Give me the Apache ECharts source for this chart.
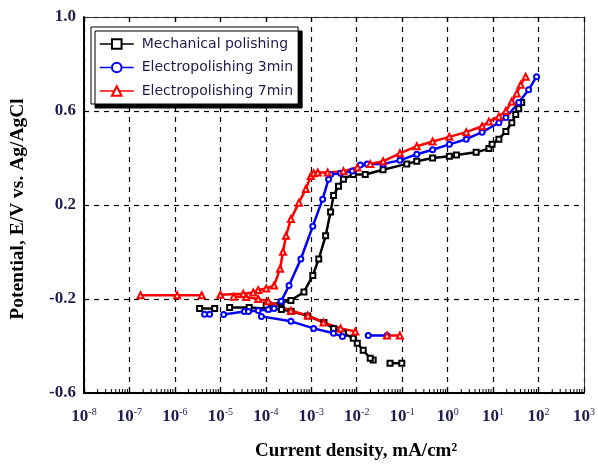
<!DOCTYPE html>
<html><head><meta charset="utf-8">
<script src="https://cdn.jsdelivr.net/npm/echarts@6/dist/echarts.min.js"></script>
<style>html,body{margin:0;padding:0;background:#fff}#c{width:598px;height:466px}</style>
</head><body><div id="c"></div>
<script>
// ---- data (current density mA/cm^2, potential V vs Ag/AgCl); null = break in curve ----
const seriesNames = ['Mechanical polishing', 'Electropolishing 3min', 'Electropolishing 7min'];
const mechI = [0.098, 0.054, null, 0.023, 0.0198, 0.0139, 0.0103, 0.0084, 0.0051, 0.0031, 0.0019, 0.00084, 0.00036, 0.00022, 0.000113, 0.000043, 0.000016, null, 0.0000075, 0.0000035, null, 0.000102, 0.000217, 0.000357, 0.00069, 0.00108, 0.00146, 0.00207, 0.00266, 0.00309, 0.00397, 0.0051, 0.0084, 0.0154, 0.038, 0.126, 0.209, 0.467, 1.09, 1.56, 4.24, 8.1, 9.5, 13.4, 19.1, 25.8, 31.5, 36.6, 42.6];
const mechE = [-0.473, -0.473, null, -0.460, -0.452, -0.418, -0.388, -0.367, -0.346, -0.325, -0.300, -0.272, -0.252, -0.245, -0.242, -0.236, -0.236, null, -0.240, -0.240, null, -0.228, -0.215, -0.206, -0.170, -0.100, -0.030, 0.069, 0.170, 0.240, 0.280, 0.310, 0.330, 0.330, 0.350, 0.375, 0.386, 0.400, 0.407, 0.413, 0.424, 0.440, 0.458, 0.480, 0.513, 0.550, 0.585, 0.610, 0.636];
const ep3I = [0.0465, 0.0179, null, 0.00485, 0.00309, 0.00113, 0.000357, 0.00008, null, 0.0000045, 0.0000058, null, 0.0000118, 0.0000338, 0.0000414, 0.000068, 0.000113, 0.000152, 0.000217, 0.000324, 0.00059, 0.00108, 0.00178, 0.0024, 0.00266, 0.0044, 0.008, 0.012, 0.017, 0.038, 0.089, 0.209, 0.467, 1.09, 2.57, 5.73, 13.4, 19.1, 36.6, 60.5, 90.4];
const ep3E = [-0.355, -0.355, null, -0.360, -0.346, -0.325, -0.295, -0.274, null, -0.265, -0.265, null, -0.266, -0.253, -0.253, -0.249, -0.245, -0.240, -0.210, -0.143, -0.030, 0.110, 0.225, 0.310, 0.330, 0.335, 0.345, 0.370, 0.375, 0.375, 0.390, 0.416, 0.435, 0.458, 0.480, 0.510, 0.550, 0.572, 0.636, 0.690, 0.746];
const ep7I = [0.089, 0.0465, null, 0.0093, 0.0044, 0.00187, 0.00084, 0.000357, 0.000113, 0.000068, 0.000037, 0.0000195, null, 0.0000039, 0.00000112, 0.000000175, null, 0.00001, 0.000032, 0.000053, 0.000068, 0.000102, 0.000152, 0.000206, 0.000239, 0.000278, 0.000357, 0.000535, 0.00076, 0.000975, 0.00113, 0.00139, 0.00229, 0.0051, 0.0103, 0.0198, 0.038, 0.089, 0.209, 0.467, 1.09, 2.57, 5.73, 8.1, 13.4, 19.1, 25.8, 33.2, 40.5, 52];
const ep7E = [-0.355, -0.355, null, -0.338, -0.325, -0.300, -0.270, -0.250, -0.210, -0.200, -0.192, -0.190, null, -0.184, -0.184, -0.184, null, -0.182, -0.178, -0.172, -0.162, -0.155, -0.143, -0.071, 0.001, 0.069, 0.140, 0.210, 0.268, 0.323, 0.335, 0.338, 0.338, 0.344, 0.360, 0.375, 0.386, 0.420, 0.450, 0.470, 0.490, 0.510, 0.535, 0.555, 0.577, 0.600, 0.640, 0.675, 0.712, 0.746];
// axis ticks
const xTickExponents = [-8, -7, -6, -5, -4, -3, -2, -1, 0, 1, 2, 3];
const yTickValues = [-0.6, -0.2, 0.2, 0.6, 1.0];
const yTickLabels = ['-0.6', '-0.2', '0.2', '0.6', '1.0'];
const minorMultipliers = [2, 3, 4, 5, 6, 7, 8, 9];

const EXP_MIN = xTickExponents[0], EXP_MAX = xTickExponents[xTickExponents.length - 1];
const X_MIN = Math.pow(10, EXP_MIN), X_MAX = Math.pow(10, EXP_MAX);
const Y_MIN = yTickValues[0], Y_MAX = yTickValues[yTickValues.length - 1];

function pairs(I, E) {
  return I.map((v, k) => v == null ? '-' : [v, E[k]]);
}
const minorTicks = [];
for (let k = 0; k < xTickExponents.length - 1; k++) {
  for (const m of minorMultipliers) minorTicks.push([m * Math.pow(10, xTickExponents[k]), Y_MIN]);
}

const labelColor = '#1d1d4d';
const chart = echarts.init(document.getElementById('c'), null, {renderer: 'canvas'});

function mkSeries(name, I, E, color, symbol, size) {
  return {
    name, type: 'line', data: pairs(I, E), connectNulls: false, xAxisIndex: 0, yAxisIndex: 0,
    symbol, symbolSize: size, showSymbol: true,
    lineStyle: {color, width: 2.5},
    itemStyle: {color, borderColor: color, borderWidth: 1.2},
    emphasis: {disabled: true}, animation: false, z: 3
  };
}
const dash = {color: '#000', type: [5, 5], width: 1.2};

chart.setOption({
  animation: false,
  backgroundColor: '#fff',
  grid: {left: 81, right: 12, top: 17, bottom: 71},
  legend: {
    data: seriesNames, orient: 'vertical', left: 91, top: 27,
    padding: [10, 5, 6, 8], itemWidth: 34, itemHeight: 12, itemGap: 9.5,
    backgroundColor: '#fff', borderColor: '#000', borderWidth: 1,
    shadowColor: '#000', shadowBlur: 0, shadowOffsetX: 4, shadowOffsetY: 4,
    textStyle: {fontFamily: 'DejaVu Sans', fontSize: 14, color: labelColor, padding: [0, 0, 0, 3]},
    lineStyle: {width: 1.5}, itemStyle: {borderWidth: 1}, z: 10
  },
  xAxis: [{
    // data scale (logarithmic); its own decorations are hidden
    type: 'log', logBase: 10, min: X_MIN, max: X_MAX, show: false
  }, {
    // decade ticks, labels and grid (linear in the exponent, same positions)
    type: 'value', min: EXP_MIN, max: EXP_MAX, interval: 1, position: 'bottom',
    axisLine: {onZero: false, lineStyle: {color: '#000', width: 2}},
    axisTick: {inside: true, length: 6, lineStyle: {color: '#000', width: 1.2}},
    splitLine: {show: true, lineStyle: dash},
    axisLabel: {
      margin: 14,
      formatter: v => xTickExponents.indexOf(Math.round(v)) >= 0 ? '{b|10}{s|' + Math.round(v) + '}' : '',
      rich: {
        b: {fontFamily: 'Liberation Serif', fontSize: 17, color: labelColor, fontWeight: 'bold'},
        s: {fontFamily: 'Liberation Serif', fontSize: 10, color: labelColor, padding: [0, 0, 9, 0]}
      }
    },
    name: 'Current density, mA/cm\u00B2', nameLocation: 'middle', nameGap: 49,
    nameTextStyle: {fontFamily: 'Liberation Serif', fontSize: 19, fontWeight: 'bold', color: '#000', padding: [0, 0, 0, 44]}
  }, {
    type: 'value', min: EXP_MIN, max: EXP_MAX, interval: 1, position: 'top',
    axisLine: {onZero: false, lineStyle: {color: '#333', width: 1}},
    axisTick: {inside: true, length: 5, lineStyle: {color: '#000', width: 1.2}},
    axisLabel: {show: false}, splitLine: {show: false}
  }],
  yAxis: [{
    type: 'value', min: Y_MIN, max: Y_MAX, interval: 0.4,
    axisLine: {onZero: false, lineStyle: {color: '#000', width: 2}},
    axisTick: {show: false},
    splitLine: {show: true, lineStyle: dash},
    axisLabel: {
      margin: 8,
      formatter: v => { const k = yTickValues.findIndex(t => Math.abs(t - v) < 1e-6); return k >= 0 ? yTickLabels[k] : ''; },
      fontFamily: 'Liberation Serif', fontSize: 17, fontWeight: 'bold', color: labelColor
    },
    name: 'Potential, E/V vs. Ag/AgCl', nameLocation: 'middle', nameGap: 56,
    nameTextStyle: {fontFamily: 'Liberation Serif', fontSize: 19.5, fontWeight: 'bold', color: '#000', padding: [0, 8, 0, 0]}
  }, {
    type: 'value', min: Y_MIN, max: Y_MAX, interval: 0.4, position: 'right',
    axisLine: {show: true, onZero: false, lineStyle: {color: '#333', width: 1}},
    axisTick: {show: false}, axisLabel: {show: false}, splitLine: {show: false}
  }],
  series: [
    mkSeries(seriesNames[0], mechI, mechE, '#000000', 'emptyRect', 5),
    mkSeries(seriesNames[1], ep3I, ep3E, '#0000ff', 'emptyCircle', 5),
    mkSeries(seriesNames[2], ep7I, ep7E, '#ff0000', 'emptyTriangle', 6),
    {
      type: 'custom', data: minorTicks, silent: true, z: 4, clip: false, xAxisIndex: 0, yAxisIndex: 0,
      renderItem: (params, api) => {
        const p = api.coord([api.value(0), api.value(1)]);
        return {type: 'line', shape: {x1: p[0], y1: p[1], x2: p[0], y2: p[1] - 4}, style: {stroke: '#000', lineWidth: 1}};
      }
    }
  ]
});
</script></body></html>
